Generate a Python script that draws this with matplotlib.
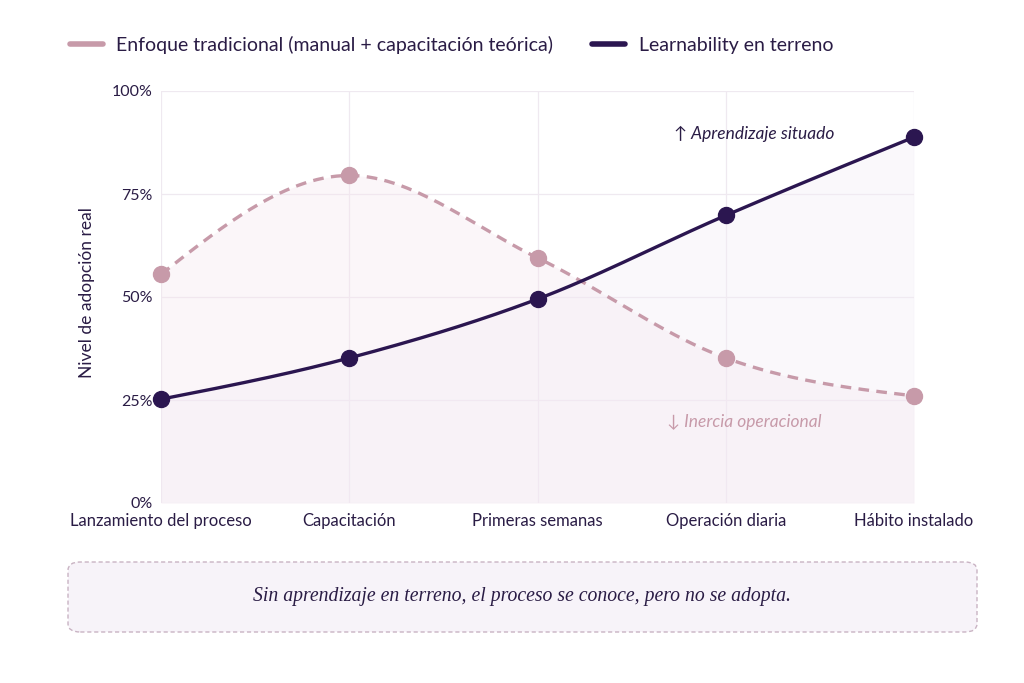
import numpy as np
import matplotlib
matplotlib.use("Agg")
import matplotlib.pyplot as plt
from matplotlib.patches import FancyBboxPatch
from matplotlib.lines import Line2D

categories = ["Lanzamiento del proceso", "Capacitación", "Primeras semanas",
              "Operación diaria", "Hábito instalado"]
tradicional = [55.5, 79.5, 59.5, 35.2, 26.0]
learnability = [25.2, 35.2, 49.5, 69.8, 88.8]
yticks = [0, 25, 50, 75, 100]
ytick_labels = ["0%", "25%", "50%", "75%", "100%"]

PINK = "#c79aa9"
DARK = "#2b1650"
TEXT = "#2a1c45"
GRID = "#efe9f0"

plt.rcParams['font.family'] = ['Lato', 'DejaVu Sans']


def monotone(xs, ys, n=60):
    xs = np.asarray(xs, float); ys = np.asarray(ys, float)
    h = np.diff(xs); d = np.diff(ys) / h
    m = np.zeros_like(ys)
    for i in range(1, len(ys) - 1):
        if d[i - 1] * d[i] <= 0:
            m[i] = 0
        else:
            p = (d[i - 1] * h[i] + d[i] * h[i - 1]) / (h[i - 1] + h[i])
            m[i] = (np.sign(d[i-1]) + np.sign(d[i])) * min(abs(d[i-1]), abs(d[i]), 0.5 * abs(p))
    m[0] = (3 * d[0] - m[1]) / 2
    m[-1] = (3 * d[-1] - m[-2]) / 2
    X, Y = [], []
    for i in range(len(xs) - 1):
        t = np.linspace(0, 1, n)
        x0, x1 = xs[i], xs[i + 1]
        y0, y1 = ys[i], ys[i + 1]
        dx = (x1 - x0) / 3
        P0 = np.array([x0, y0]); P1 = np.array([x0 + dx, y0 + m[i] * dx])
        P2 = np.array([x1 - dx, y1 - m[i + 1] * dx]); P3 = np.array([x1, y1])
        B = ((1 - t) ** 3)[:, None] * P0 + (3 * (1 - t) ** 2 * t)[:, None] * P1 + \
            (3 * (1 - t) * t ** 2)[:, None] * P2 + (t ** 3)[:, None] * P3
        X.extend(B[:, 0]); Y.extend(B[:, 1])
    return np.array(X), np.array(Y)


fig = plt.figure(figsize=(10.24, 6.83), dpi=100)
ax = fig.add_axes([161 / 1024, 1 - 503 / 683, (914 - 161) / 1024, (503 - 91) / 683])

x = np.arange(len(categories))
tx, ty = monotone(x, tradicional)
lx, ly = monotone(x, learnability)

ax.fill_between(tx, 0, ty, color="#f5e6ee", alpha=0.35, lw=0, zorder=1)
ax.fill_between(lx, 0, ly, color="#f3ecf5", alpha=0.35, lw=0, zorder=1)

ax.plot(tx, ty, color=PINK, lw=2.4, dashes=(3.2, 2.2), zorder=3)
ax.plot(lx, ly, color=DARK, lw=2.4, zorder=4)
ax.plot(x, tradicional, 'o', color=PINK, ms=11.5, zorder=5, clip_on=False)
ax.plot(x, learnability, 'o', color=DARK, ms=11.5, zorder=6, clip_on=False)

ax.set_xlim(0, len(categories) - 1)
ax.set_ylim(0, 100)
ax.set_xticks(x)
ax.set_xticklabels(categories, fontsize=12, color=TEXT)
ax.set_yticks(yticks)
ax.set_yticklabels(ytick_labels, fontsize=11.5, color=TEXT)
ax.tick_params(length=0, pad=6)
ax.tick_params(axis='x', pad=7)
for s in ax.spines.values():
    s.set_visible(False)
ax.grid(True, color=GRID, lw=0.9, zorder=0)
ax.set_axisbelow(True)
ax.set_ylabel("Nivel de adopción real", fontsize=12.5, color=TEXT)
ax.yaxis.set_label_coords(-0.088, 0.51)

ax.text(3.15, 89.5, "↑ Aprendizaje situado", fontsize=12.5, style='italic', color=TEXT,
        ha='center', va='center', zorder=7)
ax.text(3.1, 19.7, "↓ Inercia operacional", fontsize=12.5, style='italic', color=PINK,
        ha='center', va='center', zorder=7)

handles = [Line2D([0], [0], color=PINK, lw=4, solid_capstyle='round'),
           Line2D([0], [0], color=DARK, lw=4, solid_capstyle='round')]
fig.legend(handles, ["Enfoque tradicional (manual + capacitación teórica)",
                     "Learnability en terreno"],
           loc='center left', bbox_to_anchor=(52 / 1024, 1 - 45 / 683), ncol=2,
           frameon=False, fontsize=14, handlelength=1.7, columnspacing=2.0,
           labelcolor=TEXT, handletextpad=0.7)

box = FancyBboxPatch((68 / 1024, 1 - 632 / 683), (977 - 68) / 1024, 70 / 683,
                     boxstyle="round,pad=0,rounding_size=0.012",
                     transform=fig.transFigure, facecolor="#f7f3f9",
                     edgecolor="#c9b3c3", lw=1.0, linestyle=(0, (3, 2)))
fig.patches.append(box)
fig.text(522 / 1024, 1 - 597 / 683,
         "Sin aprendizaje en terreno, el proceso se conoce, pero no se adopta.",
         family=['Liberation Serif', 'DejaVu Serif'], style='italic', fontsize=14.2,
         color=TEXT, ha='center', va='center')

fig.savefig("out.png", dpi=100, facecolor='white')
